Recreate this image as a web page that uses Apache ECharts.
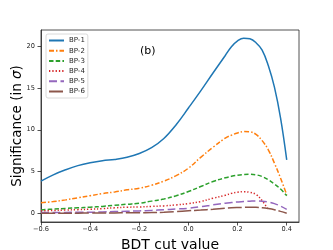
<!DOCTYPE html>
<html>
<head>
<meta charset="utf-8">
<script src="https://cdn.jsdelivr.net/npm/echarts@6/dist/echarts.min.js"></script>
<style>html,body{margin:0;padding:0;background:#fff}#c{width:333px;height:250px}</style>
</head>
<body>
<div id="c"></div>
<script>
const xs = [-0.6,-0.55,-0.5,-0.45,-0.4,-0.35,-0.3,-0.25,-0.2,-0.15,-0.1,-0.05,0,0.05,0.1,0.15,0.175,0.2,0.225,0.25,0.275,0.3,0.325,0.35,0.375,0.4];
const bp1 = [3.85,4.6,5.2,5.7,6.05,6.3,6.45,6.7,7.15,7.85,8.95,10.6,12.6,14.65,16.8,18.9,19.95,20.65,20.97,20.9,20.43,19.55,17.7,15.1,11.4,6.4];
const bp2 = [1.25,1.4,1.6,1.85,2.1,2.35,2.55,2.8,3.0,3.35,3.85,4.5,5.4,6.7,7.9,9.0,9.35,9.62,9.78,9.75,9.45,8.7,7.6,6.0,4.2,2.2];
const bp3 = [0.4,0.5,0.58,0.65,0.72,0.82,0.95,1.08,1.2,1.45,1.7,2.1,2.6,3.2,3.8,4.25,4.42,4.55,4.63,4.66,4.6,4.4,4.0,3.5,2.9,2.1];
const bp4 = [0.28,0.33,0.38,0.43,0.48,0.55,0.65,0.72,0.75,0.82,0.88,1.0,1.15,1.4,1.8,2.15,2.38,2.52,2.58,2.5,2.25,1.5,0.45,null,null,null];
const bp5 = [0.08,0.09,0.1,0.11,0.12,0.15,0.2,0.24,0.28,0.34,0.42,0.5,0.6,0.78,1.0,1.2,1.28,1.35,1.41,1.45,1.48,1.45,1.35,1.15,0.85,0.45];
const bp6 = [0,0,0.01,0.01,0.02,0.03,0.04,0.05,0.06,0.08,0.12,0.2,0.3,0.38,0.48,0.6,0.65,0.68,0.7,0.72,0.71,0.66,0.56,0.42,0.22,0.0];
const seriesNames = ['BP-1','BP-2','BP-3','BP-4','BP-5','BP-6'];
const xTicks = [-0.6,-0.4,-0.2,0,0.2,0.4];
const yTicks = [0,5,10,15,20];

const FONT = 'DejaVu Sans';
const colors = ['#1f77b4','#ff7f0e','#2ca02c','#d62728','#9467bd','#8c564b'];
const dashes = ['solid',[5,2,1.5,2],[4.5,2.2],[1.3,2],[8,3.5],[14,3]];
const allY = [bp1,bp2,bp3,bp4,bp5,bp6];
const fmt = v => { const s = (Math.round(v*10)/10).toFixed(1); return s.replace('-', '\u2212'); };

const chart = echarts.init(document.getElementById('c'), null, {renderer:'canvas'});
chart.setOption({
  animation: false,
  backgroundColor: '#fff',
  textStyle: {fontFamily: FONT},
  grid: {left: 41, right: 34, top: 30, bottom: 28, containLabel: false, outerBoundsMode: 'none', show: true, borderColor: '#262626', borderWidth: 0.8, backgroundColor: 'transparent'},
  xAxis: {
    type: 'value', min: -0.6, max: 0.45, interval: 0.2,
    name: 'BDT cut value', nameLocation: 'middle', nameGap: 14,
    nameTextStyle: {fontFamily: FONT, fontSize: 14, color: '#000'},
    axisLine: {show: true, onZero: false, lineStyle: {color: '#262626', width: 0.8}},
    axisTick: {show: true, length: 3.5, lineStyle: {color: '#262626', width: 0.8}, customValues: xTicks},
    axisLabel: {fontFamily: FONT, fontSize: 6.6, color: '#262626', margin: 4, formatter: fmt, customValues: xTicks},
    splitLine: {show: false}
  },
  yAxis: {
    type: 'value', min: -1.05, max: 21.95,
    name: 'Significance (in {i|\u03c3})', nameLocation: 'middle', nameGap: 17, nameMoveOverlap: false,
    nameTextStyle: {fontFamily: FONT, fontSize: 13.5, color: '#000', rich: {i: {fontFamily: FONT, fontSize: 13.5, fontStyle: 'italic', color: '#000'}}},
    axisLine: {show: true, onZero: false, lineStyle: {color: '#262626', width: 0.8}},
    axisTick: {show: true, length: 3.5, lineStyle: {color: '#262626', width: 0.8}, customValues: yTicks},
    axisLabel: {fontFamily: FONT, fontSize: 6.6, color: '#262626', margin: 6, customValues: yTicks},
    splitLine: {show: false}
  },
  legend: {
    orient: 'vertical', left: 46, top: 34,
    padding: [3, 3, 3, 2], itemWidth: 15, itemHeight: 8, itemGap: 3.2,
    backgroundColor: 'rgba(255,255,255,0.8)', borderColor: '#d0d0d0', borderWidth: 0.8, borderRadius: 2,
    itemStyle: {opacity: 0},
    textStyle: {fontFamily: FONT, fontSize: 7, color: '#262626', padding: [0,0,0,0]},
    data: seriesNames
  },
  graphic: [{type: 'text', left: 140, top: 46, style: {text: '(b)', font: '11px "DejaVu Sans"', fill: '#000'}}],
  series: seriesNames.map((n, i) => ({
    name: n, type: 'line', symbol: 'none', smooth: 0.4, connectNulls: false,
    data: xs.map((x, j) => [x, allY[i][j]]),
    lineStyle: {color: colors[i], width: 1.5, type: dashes[i]},
    itemStyle: {color: colors[i]}
  }))
});
</script>
</body>
</html>
